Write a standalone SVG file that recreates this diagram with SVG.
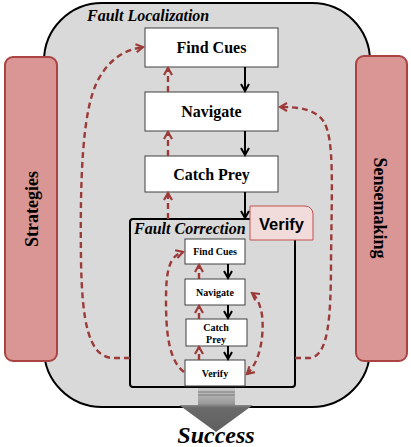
<svg xmlns="http://www.w3.org/2000/svg" width="411" height="447" viewBox="0 0 411 447">
<defs>
<style>
.serif{font-family:"Liberation Serif","Times New Roman",serif;font-weight:bold;fill:#000}
.box{fill:#fff;stroke:#404040;stroke-width:1}
.bar{fill:#d99694;stroke:#a94442;stroke-width:2}
.blk{stroke:#000;stroke-width:2;fill:none;marker-end:url(#ah)}
.red{stroke:#9c3a38;stroke-width:2.4;fill:none;stroke-dasharray:6,4}
.redA{stroke:#9c3a38;stroke-width:2.4;fill:none;stroke-dasharray:6,4;marker-end:url(#rh)}
</style>
<marker id="ah" markerWidth="10" markerHeight="10" refX="8" refY="5" orient="auto" markerUnits="userSpaceOnUse">
<path d="M1,1 L8,5 L1,9" fill="none" stroke="#000" stroke-width="2"/>
</marker>
<marker id="rh" markerWidth="10" markerHeight="10" refX="8" refY="5" orient="auto" markerUnits="userSpaceOnUse">
<path d="M1,1 L8,5 L1,9" fill="none" stroke="#9c3a38" stroke-width="2.2"/>
</marker>
<marker id="rhs" markerWidth="10" markerHeight="10" refX="2" refY="5" orient="auto" markerUnits="userSpaceOnUse">
<path d="M9,1 L2,5 L9,9" fill="none" stroke="#9c3a38" stroke-width="2.2"/>
</marker>
<linearGradient id="sg" x1="0" y1="0" x2="0" y2="1">
<stop offset="0" stop-color="#c8c8c8"/>
<stop offset="0.35" stop-color="#9a9a9a"/>
<stop offset="0.45" stop-color="#6a6a6a"/>
<stop offset="1" stop-color="#5f5f5f"/>
</linearGradient>
</defs>

<g id="fault-localization">
<rect x="44" y="3" width="326" height="404" rx="58" ry="58" fill="#d9d9d9" stroke="#000" stroke-width="2"/>
<text x="87" y="21" class="serif" font-style="italic" font-size="16">Fault Localization</text>
</g>

<g id="strategies">
<rect class="bar" x="5" y="57" width="52" height="304" rx="8"/>
<text class="serif" font-size="18" transform="translate(38,209) rotate(-90)" text-anchor="middle">Strategies</text>
</g>

<g id="sensemaking">
<rect class="bar" x="356" y="56" width="51" height="305" rx="8"/>
<text class="serif" font-size="18" transform="translate(374,208) rotate(90)" text-anchor="middle">Sensemaking</text>
</g>

<g id="find-cues">
<rect class="box" x="145" y="28" width="133" height="39"/>
<text x="211.5" y="53" class="serif" font-size="16" text-anchor="middle">Find Cues</text>
</g>
<g id="navigate">
<rect class="box" x="145" y="92" width="133" height="39"/>
<text x="211.5" y="117" class="serif" font-size="16" text-anchor="middle">Navigate</text>
</g>
<g id="catch-prey">
<rect class="box" x="145" y="156" width="133" height="36"/>
<text x="211.5" y="180" class="serif" font-size="16" text-anchor="middle">Catch Prey</text>
</g>

<g id="fault-correction">
<rect x="130" y="219" width="165" height="168" rx="3" fill="#d9d9d9" stroke="#000" stroke-width="2"/>
<text x="134" y="234" class="serif" font-style="italic" font-size="16">Fault Correction</text>
</g>

<g id="verify-tag">
<path d="M250,206 H305 A8,8 0 0 1 313,214 V240 H250 Z" fill="#f2dcdb" stroke="#c0504d" stroke-width="1"/>
<text x="281.5" y="230" font-family="'Liberation Sans',Arial,sans-serif" font-weight="bold" font-size="17" text-anchor="middle" textLength="45" lengthAdjust="spacingAndGlyphs">Verify</text>
</g>

<g id="fc-find-cues">
<rect class="box" x="185" y="239" width="60" height="25"/>
<text x="215" y="255" class="serif" font-size="10" text-anchor="middle">Find Cues</text>
</g>
<g id="fc-navigate">
<rect class="box" x="185" y="279" width="60" height="26"/>
<text x="215" y="296" class="serif" font-size="10" text-anchor="middle">Navigate</text>
</g>
<g id="fc-catch-prey">
<rect class="box" x="186" y="319" width="61" height="27"/>
<text x="216" y="331" class="serif" font-size="10" text-anchor="middle">Catch</text>
<text x="216" y="343" class="serif" font-size="10" text-anchor="middle">Prey</text>
</g>
<g id="fc-verify">
<rect class="box" x="185" y="360" width="60" height="26"/>
<text x="215" y="377" class="serif" font-size="10" text-anchor="middle">Verify</text>
</g>

<g id="success">
<path d="M198,388 H235 V405 H253 L216,432 L179,405 H198 Z" fill="url(#sg)"/>
<line x1="198" y1="392" x2="235" y2="392" stroke="#7a7a7a" stroke-width="1"/>
<line x1="198" y1="395" x2="235" y2="395" stroke="#7a7a7a" stroke-width="1"/>
<text x="216" y="443" class="serif" font-style="italic" font-size="24" text-anchor="middle">Success</text>
</g>

<g id="connectors">
<line class="blk" x1="245" y1="67" x2="245" y2="91"/>
<line class="blk" x1="245" y1="131" x2="245" y2="155"/>
<line class="blk" x1="245" y1="192" x2="245" y2="218"/>
<line class="redA" x1="168" y1="92" x2="168" y2="68"/>
<line class="redA" x1="168" y1="156" x2="168" y2="132"/>
<line class="redA" x1="168" y1="219" x2="168" y2="193"/>
<line class="blk" x1="228" y1="264" x2="228" y2="278"/>
<line class="blk" x1="228" y1="305" x2="228" y2="318"/>
<line class="blk" x1="228" y1="346" x2="228" y2="359"/>
<line class="redA" x1="199" y1="279" x2="199" y2="265"/>
<line class="redA" x1="199" y1="319" x2="199" y2="306"/>
<line class="redA" x1="199" y1="360" x2="199" y2="347"/>
<path class="redA" d="M184,372 C168,360 166,330 166,300 C166,268 170,256 183,252"/>
<path class="red" d="M247,374 C262,360 264,330 262,315 C260,303 256,296 252,293" marker-start="url(#rhs)" marker-end="url(#rh)"/>
<path class="redA" d="M130,358 L112,358 C88,356 82,320 81,260 C80,180 82,110 98,80 C110,58 125,50 143,47"/>
<path class="redA" d="M295,358 L310,358 C328,356 331,320 331,260 C332,180 334,140 324,122 C316,110 302,107 280,107"/>
</g>
</svg>
